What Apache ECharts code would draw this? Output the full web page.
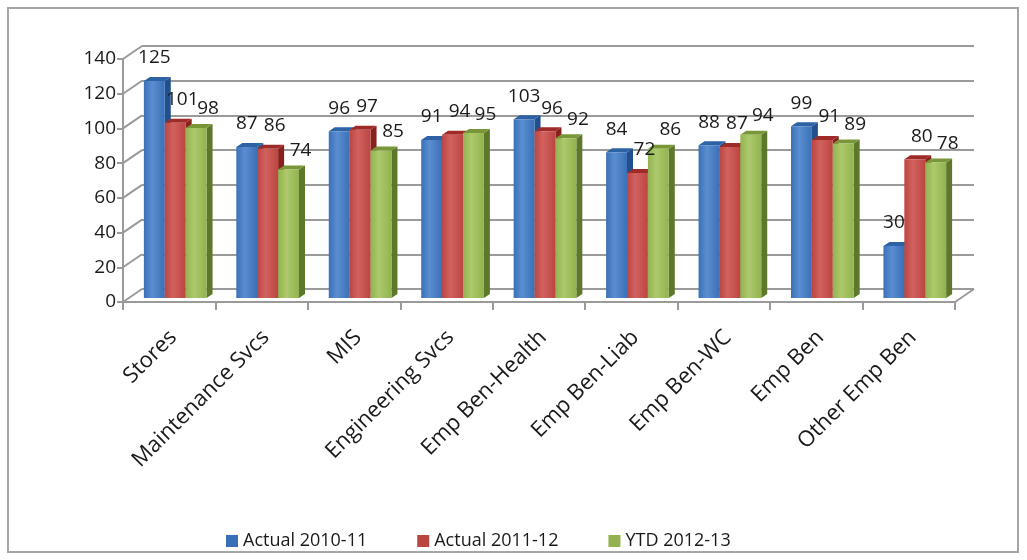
<!DOCTYPE html>
<html>
<head>
    <meta charset="utf-8">
    <title>Department costs</title>
    <script src="https://cdn.jsdelivr.net/npm/echarts@6/dist/echarts.min.js"></script>
    <style>
        body { margin: 0; background: #fff; }
    </style>
</head>
<body>
<div id="main" style="width: 1027px;height:560px;"></div>
<script type="text/javascript">
    // data
    var categories = ['Stores', 'Maintenance Svcs', 'MIS', 'Engineering Svcs', 'Emp Ben-Health',
        'Emp Ben-Liab', 'Emp Ben-WC', 'Emp Ben', 'Other Emp Ben'];
    var actual1011 = [125, 87, 96, 91, 103, 84, 88, 99, 30];
    var actual1112 = [101, 86, 97, 94, 96, 72, 87, 91, 80];
    var ytd1213 = [98, 74, 85, 95, 92, 86, 94, 89, 78];
    var yTicks = [0, 20, 40, 60, 80, 100, 120, 140];

    var FONT = '"Open Sans", sans-serif';
    var TEXT = '#1a1a1a';
    var GRID_COLOR = '#9a9a9a';
    var DEPTH_X = 19, DEPTH_Y = -13;   // slant of walls/floor
    var BAR_DX = 6, BAR_DY = -4;        // slant of each column
    var BAR_FRAC = 0.226;               // column width as share of a category

    // front, side, top colours + label offset for each series
    var looks = [
        { front: ['#5a8ed0', '#3a70b8'], side: '#22508c', top: '#2d62a4', lab: [0, -23] },
        { front: ['#d2625f', '#bb4541'], side: '#88201e', top: '#9e2b28', lab: [7, -23] },
        { front: ['#adc96c', '#92b34f'], side: '#5d782a', top: '#799738', lab: [12, -19] }
    ];

    function toPairs(arr) {
        return arr.map(function (v, i) { return [i, v]; });
    }

    function barRenderer(si) {
        var look = looks[si];
        return function (params, api) {
            var cat = api.value(0), v = api.value(1);
            var base = api.coord([cat, 0]);
            var top = api.coord([cat, v]);
            var bw = api.size([1, 0])[0] * BAR_FRAC;
            var x0 = base[0] + (si - 1.5) * bw;
            var x1 = x0 + bw;
            var yb = base[1], yt = top[1];
            return {
                type: 'group',
                children: [
                    {
                        type: 'polygon',
                        shape: { points: [[x1, yt], [x1 + BAR_DX, yt + BAR_DY], [x1 + BAR_DX, yb + BAR_DY], [x1, yb]] },
                        style: { fill: look.side }
                    },
                    {
                        type: 'polygon',
                        shape: { points: [[x0, yt], [x0 + BAR_DX, yt + BAR_DY], [x1 + BAR_DX, yt + BAR_DY], [x1, yt]] },
                        style: { fill: look.top }
                    },
                    {
                        type: 'rect',
                        shape: { x: x0, y: yt, width: bw, height: yb - yt },
                        style: {
                            fill: new echarts.graphic.LinearGradient(0, 0, 1, 0, [
                                { offset: 0, color: look.front[1] },
                                { offset: 0.4, color: look.front[0] },
                                { offset: 1, color: look.front[1] }
                            ])
                        }
                    }
                ]
            };
        };
    }

    // value labels, drawn above every column
    function labelRenderer(params, api) {
        var cat = api.value(0), v = api.value(1), si = api.value(2);
        var look = looks[si];
        var base = api.coord([cat, 0]);
        var top = api.coord([cat, v]);
        var bw = api.size([1, 0])[0] * BAR_FRAC;
        var cx = base[0] + (si - 1) * bw;
        return {
            type: 'text',
            x: cx + look.lab[0],
            y: top[1] + look.lab[1],
            style: {
                text: String(v),
                font: '19px ' + FONT,
                fill: TEXT,
                align: 'center',
                verticalAlign: 'middle'
            }
        };
    }

    // slanted lines of the left wall and the floor corner
    function wallRenderer(params, api) {
        var cs = params.coordSys;
        var v = api.value(0);
        var y = api.coord([0, v])[1];
        var lineStyle = { stroke: GRID_COLOR, lineWidth: 2 };
        var children = [{
            type: 'line',
            shape: { x1: cs.x, y1: y, x2: cs.x + DEPTH_X, y2: y + DEPTH_Y },
            style: lineStyle
        }];
        if (v === 0) {
            children.push({
                type: 'line',
                shape: { x1: cs.x + cs.width, y1: y, x2: cs.x + cs.width + DEPTH_X, y2: y + DEPTH_Y },
                style: lineStyle
            });
        }
        return { type: 'group', children: children };
    }

    var names = ['Actual 2010-11', 'Actual 2011-12', 'YTD 2012-13'];
    var values = [actual1011, actual1112, ytd1213];

    var labelData = [];
    values.forEach(function (arr, si) {
        arr.forEach(function (v, i) { labelData.push([i, v, si]); });
    });

    var myChart = echarts.init(document.getElementById('main'));

    var series = [{
        type: 'custom',
        name: 'walls',
        xAxisIndex: 0,
        yAxisIndex: 0,
        z: 1,
        silent: true,
        renderItem: wallRenderer,
        encode: { y: 0 },
        data: yTicks.map(function (t) { return [t]; })
    }];
    names.forEach(function (n, si) {
        series.push({
            type: 'custom',
            name: n,
            xAxisIndex: 2,
            yAxisIndex: 2,
            z: 3 + si,
            itemStyle: { color: looks[si].front[1] },
            renderItem: barRenderer(si),
            encode: { x: 0, y: 1 },
            data: toPairs(values[si])
        });
    });
    series.push({
        type: 'custom',
        name: 'labels',
        xAxisIndex: 2,
        yAxisIndex: 2,
        z: 10,
        silent: true,
        renderItem: labelRenderer,
        encode: { x: 0, y: 1 },
        data: labelData
    });

    myChart.setOption({
        animation: false,
        textStyle: { fontFamily: FONT },
        graphic: [{
            type: 'rect',
            shape: { x: 8, y: 8, width: 1010, height: 544 },
            style: { fill: 'none', stroke: '#a6a6a6', lineWidth: 2 },
            z: -10
        }],
        legend: {
            data: names,
            left: 221,
            top: 527,
            icon: 'rect',
            itemWidth: 12,
            itemHeight: 12,
            itemGap: 50,
            textStyle: { fontSize: 18, color: TEXT, fontFamily: FONT }
        },
        grid: [
            // front edge: axis lines, value labels
            { left: 123, top: 59, width: 832, height: 243 },
            // back wall: gridlines
            { left: 123 + DEPTH_X, top: 59 + DEPTH_Y, width: 832, height: 243 },
            // columns sit a little way into the floor
            { left: 129, top: 55, width: 832, height: 243 },
            // category labels hang from the floor's middle
            { left: 127, top: 59, width: 832, height: 243 }
        ],
        xAxis: [
            {
                gridIndex: 0,
                type: 'category',
                data: categories,
                axisLine: { lineStyle: { color: GRID_COLOR, width: 2 } },
                axisTick: { show: true, length: 8, interval: 0, lineStyle: { color: GRID_COLOR, width: 2 } },
                axisLabel: { show: false }
            },
            { gridIndex: 1, type: 'category', data: categories, show: false },
            { gridIndex: 2, type: 'category', data: categories, show: false },
            {
                gridIndex: 3,
                type: 'category',
                data: categories,
                axisLine: { show: false },
                axisTick: { show: false },
                axisLabel: {
                    interval: 0,
                    rotate: 45,
                    margin: 32,
                    fontSize: 22,
                    color: TEXT,
                    fontFamily: FONT
                }
            }
        ],
        yAxis: [
            {
                gridIndex: 0,
                type: 'value',
                min: 0, max: 140, interval: 20,
                axisLine: { show: true, lineStyle: { color: GRID_COLOR, width: 2 } },
                axisTick: { show: true, length: 6, lineStyle: { color: GRID_COLOR, width: 2 } },
                axisLabel: { fontSize: 19, color: TEXT, margin: 7, fontFamily: FONT },
                splitLine: { show: false }
            },
            {
                gridIndex: 1,
                type: 'value',
                min: 0, max: 140, interval: 20,
                axisLine: { show: false },
                axisTick: { show: false },
                axisLabel: { show: false },
                splitLine: { show: true, lineStyle: { color: GRID_COLOR, width: 2 } }
            },
            {
                gridIndex: 2,
                type: 'value',
                min: 0, max: 140, interval: 20,
                show: false,
                splitLine: { show: false }
            },
            {
                gridIndex: 3,
                type: 'value',
                min: 0, max: 140, interval: 20,
                show: false,
                splitLine: { show: false }
            }
        ],
        series: series
    });
</script>
</body>
</html>
